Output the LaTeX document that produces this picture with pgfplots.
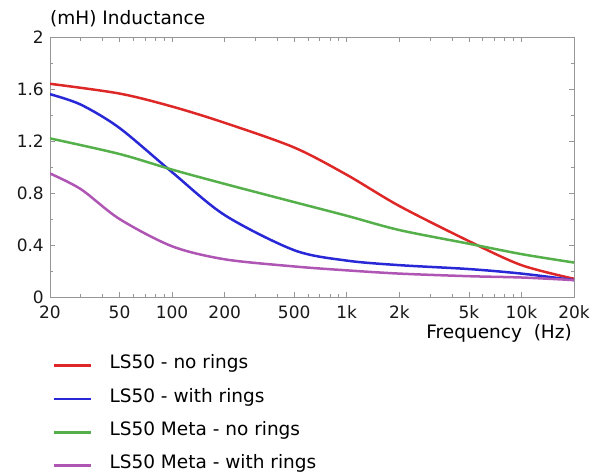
\documentclass[border=0pt]{standalone}
\usepackage{fontspec}
\setmainfont{DejaVu Sans}
\usepackage{pgfplots}
\pgfplotsset{compat=1.18}

\definecolor{lsred}{RGB}{222,40,40}
\definecolor{lsblue}{RGB}{40,40,215}
\definecolor{lsgreen}{RGB}{85,175,75}
\definecolor{lspurple}{RGB}{175,85,180}
\definecolor{axgray}{RGB}{150,150,150}

\begin{document}
\begin{tikzpicture}
\useasboundingbox (-50bp,-178bp) rectangle (544bp,297bp);
\begin{axis}[
    at={(0,0)}, anchor=south west,
    scale only axis,
    width=524bp, height=260bp,
    xmode=log,
    xmin=20, xmax=20000,
    ymin=0, ymax=2,
    axis line style={axgray},
    tick style={axgray, line width=0.6bp},
    tick align=inside,
    major tick length=5bp,
    minor tick length=3.5bp,
    xtick={20,50,100,200,500,1000,2000,5000,10000,20000},
    xticklabels={20,50,100,200,500,1k,2k,5k,10k,20k},
    minor xtick={30,40,60,70,80,90,300,400,600,700,800,900,3000,4000,6000,7000,8000,9000},
    ytick={0,0.4,0.8,1.2,1.6,2},
    yticklabels={0,0.4,0.8,1.2,1.6,2},
    minor ytick={0.2,0.6,1.0,1.4,1.8},
    ticklabel style={inner sep=0pt, font=\fontsize{17bp}{20bp}\selectfont, text=black!90},
    xticklabel style={anchor=base, yshift=-21bp},
    yticklabel style={anchor=east, xshift=-6bp},
    title={(mH) Inductance},
    title style={at={(axis description cs:0,1)}, anchor=base west, yshift=7bp,
        inner sep=0pt, font=\fontsize{18.5bp}{22bp}\selectfont},
    xlabel={Frequency~~(Hz)},
    xlabel style={at={(axis description cs:1,0)}, anchor=base east, yshift=-41bp,
        xshift=-2bp, inner sep=0pt, font=\fontsize{18.5bp}{22bp}\selectfont},
    legend image code/.code={\draw[#1] (0bp,3bp) -- (37.7bp,3bp);},
    legend style={
        at={(axis description cs:0,0)}, anchor=north west,
        xshift=2.3bp, yshift=-58.2bp,
        draw=none, fill=none, inner sep=0pt, outer sep=0pt,
        row sep=14.3bp, column sep=17bp,
        font=\fontsize{18.5bp}{22bp}\selectfont,
        nodes={inner sep=0pt, text height=13.5bp, text depth=5.5bp, anchor=base west},
    },
    legend cell align=left,
    every axis plot/.append style={line width=2.5bp, smooth, tension=0.5},
]
\addplot[lsred] coordinates {
(20,1.64) (50,1.565) (100,1.465) (200,1.34) (500,1.15) (1000,0.94)
(2000,0.70) (5000,0.43) (10000,0.245) (20000,0.14)};
\addlegendentry{LS50 - no rings}
\addplot[lsblue] coordinates {
(20,1.56) (30,1.48) (50,1.30) (100,0.96) (200,0.63) (500,0.36) (1000,0.28)
(2000,0.245) (5000,0.215) (10000,0.18) (20000,0.13)};
\addlegendentry{LS50 - with rings}
\addplot[lsgreen] coordinates {
(20,1.22) (50,1.10) (100,0.98) (200,0.87) (500,0.73) (1000,0.625)
(2000,0.515) (5000,0.41) (10000,0.33) (20000,0.265)};
\addlegendentry{LS50 Meta - no rings}
\addplot[lspurple] coordinates {
(20,0.95) (30,0.83) (50,0.60) (100,0.39) (200,0.29) (500,0.235) (1000,0.205)
(2000,0.18) (5000,0.16) (10000,0.15) (20000,0.13)};
\addlegendentry{LS50 Meta - with rings}
\end{axis}
\end{tikzpicture}
\end{document}
